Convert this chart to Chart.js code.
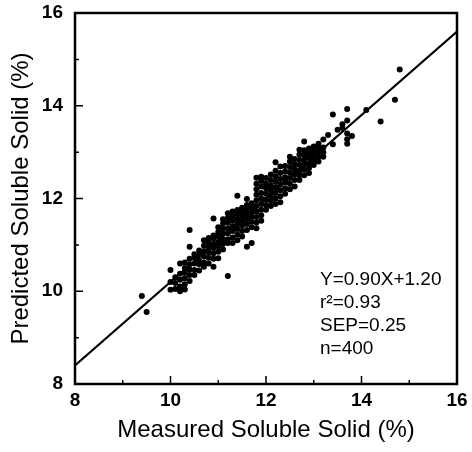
<!DOCTYPE html>
<html>
<head>
<meta charset="utf-8">
<script src="https://cdn.jsdelivr.net/npm/chart.js@4.4.0/dist/chart.umd.min.js"></script>
<style>
  html, body { margin: 0; padding: 0; background: #fff; }
  #wrap { width: 472px; height: 452px; }
</style>
</head>
<body>
<div id="wrap"><canvas id="chart" width="472" height="452"></canvas></div>
<script>
/* Measured vs predicted soluble solid – scatter with fit line */

// measured value (x) of each column of points, and the predicted values (y) read at that column
const measuredLevels = [
  9.4, 9.5, 10.0, 10.1, 10.2, 10.3, 10.4, 10.5, 10.6, 10.7, 10.8, 10.9,
  11.0, 11.1, 11.2, 11.3, 11.4, 11.5, 11.6, 11.7, 11.8, 11.9,
  12.0, 12.1, 12.2, 12.3, 12.4, 12.5, 12.6, 12.7, 12.8, 12.9,
  13.0, 13.1, 13.2, 13.3, 13.4, 13.5, 13.6, 13.7, 13.8, 14.1, 14.4, 14.7, 14.8
];
const predictedByLevel = [
  [9.90],
  [9.55],
  [10.03, 10.20, 10.46],
  [10.05, 10.18, 10.30],
  [10.00, 10.10, 10.25, 10.38, 10.60],
  [10.04, 10.15, 10.28, 10.40, 10.50, 10.62],
  [10.22, 10.35, 10.47, 10.58, 10.70, 10.96, 11.32],
  [10.35, 10.46, 10.60, 10.72, 10.80],
  [10.45, 10.58, 10.66, 10.78, 10.88],
  [10.53, 10.62, 10.75, 10.86, 10.98, 11.10],
  [10.60, 10.72, 10.84, 10.95, 11.05, 11.15],
  [10.53, 10.70, 10.82, 10.93, 11.02, 11.14, 11.20, 11.57],
  [10.71, 10.85, 10.97, 11.06, 11.18, 11.28, 11.38],
  [10.90, 11.02, 11.12, 11.24, 11.35, 11.46, 11.55],
  [10.33, 11.04, 11.12, 11.25, 11.36, 11.48, 11.58, 11.68],
  [11.04, 11.16, 11.30, 11.40, 11.52, 11.62, 11.72],
  [11.10, 11.22, 11.34, 11.45, 11.56, 11.66, 11.75, 12.06],
  [11.18, 11.30, 11.42, 11.52, 11.62, 11.72, 11.80],
  [10.96, 11.32, 11.45, 11.56, 11.66, 11.76, 11.86, 11.99],
  [11.04, 11.38, 11.50, 11.60, 11.70, 11.80, 11.90],
  [11.36, 11.48, 11.60, 11.72, 11.84, 11.96, 12.08, 12.20, 12.32, 12.45],
  [11.52, 11.64, 11.76, 11.88, 12.00, 12.12, 12.26, 12.38, 12.47],
  [11.76, 11.86, 11.98, 12.10, 12.22, 12.32, 12.44],
  [11.84, 11.95, 12.06, 12.18, 12.28, 12.40, 12.52],
  [11.88, 12.00, 12.12, 12.24, 12.36, 12.48, 12.60, 12.78],
  [11.92, 12.05, 12.18, 12.30, 12.42, 12.55, 12.69],
  [12.10, 12.22, 12.35, 12.46, 12.58, 12.70],
  [12.20, 12.32, 12.44, 12.56, 12.68, 12.80, 12.90],
  [12.26, 12.40, 12.52, 12.63, 12.74, 12.85],
  [12.40, 12.50, 12.60, 12.72, 12.83, 12.95, 13.05],
  [12.50, 12.62, 12.74, 12.84, 12.94, 13.04, 13.23],
  [12.55, 12.66, 12.76, 12.88, 12.98, 13.08],
  [12.72, 12.82, 12.92, 13.02, 13.12],
  [12.80, 12.90, 13.00, 13.10, 13.18],
  [12.90, 13.00, 13.10, 13.27],
  [13.37],
  [13.17, 13.81],
  [13.48],
  [13.52, 13.60],
  [13.18, 13.28, 13.40, 13.68, 13.93],
  [13.35],
  [13.91],
  [13.66],
  [14.13],
  [14.78]
];

// calibration line Y = 0.90X + 1.20
const fitSlope = 0.90;
const fitIntercept = 1.20;
const fitRange = [8, 16];

const majorTicks = [8, 10, 12, 14, 16];
const minorTicks = [9, 11, 13, 15];
const statsText = ['Y=0.90X+1.20', 'r\u00B2=0.93', 'SEP=0.25', 'n=400'];

const points = [];
measuredLevels.forEach((m, i) => {
  predictedByLevel[i].forEach((p) => points.push({ x: m, y: p }));
});
const fitLine = fitRange.map((v) => ({ x: v, y: fitSlope * v + fitIntercept }));

const FONT = '"Liberation Sans", Arial, Helvetica, sans-serif';

// frame, inward tick marks and the statistics text
const framePlugin = {
  id: 'frame',
  afterDatasetsDraw(chart) {
    const { ctx, chartArea: a, scales: { x, y } } = chart;
    ctx.save();
    ctx.strokeStyle = '#000';
    ctx.lineWidth = 2.5;
    ctx.strokeRect(a.left, a.top, a.right - a.left, a.bottom - a.top);

    ctx.lineWidth = 1.5;
    ctx.beginPath();
    majorTicks.concat(minorTicks).forEach((v) => {
      const len = majorTicks.includes(v) ? 8 : 4;
      const px = x.getPixelForValue(v);
      ctx.moveTo(px, a.bottom);
      ctx.lineTo(px, a.bottom - len);
      const py = y.getPixelForValue(v);
      ctx.moveTo(a.left, py);
      ctx.lineTo(a.left + len, py);
    });
    ctx.stroke();

    ctx.fillStyle = '#000';
    ctx.font = '19px ' + FONT;
    ctx.textBaseline = 'middle';
    ctx.textAlign = 'left';
    statsText.forEach((t, i) => ctx.fillText(t, a.left + 245, a.top + 267 + i * 23));
    ctx.restore();
  },
};

const tickFont = { family: FONT, size: 19, weight: 'bold' };
const titleFont = { family: FONT, size: 24 };

new Chart(document.getElementById('chart'), {
  type: 'scatter',
  data: {
    datasets: [
      {
        data: points,
        pointRadius: 3,
        pointBackgroundColor: '#000',
        pointBorderWidth: 0,
        pointHoverRadius: 3,
      },
      {
        type: 'line',
        data: fitLine,
        borderColor: '#000',
        borderWidth: 2,
        pointRadius: 0,
        fill: false,
      },
    ],
  },
  options: {
    responsive: false,
    animation: false,
    devicePixelRatio: 1,
    layout: { padding: { top: 13, right: 15, left: 0, bottom: 0 } },
    plugins: {
      legend: { display: false },
      tooltip: { enabled: false },
    },
    scales: {
      x: {
        type: 'linear',
        min: 8,
        max: 16,
        afterBuildTicks: (s) => { s.ticks = majorTicks.map((v) => ({ value: v })); },
        afterFit: (s) => {
          s.height = 68;
          s.paddingLeft = 0;
          s.paddingRight = 0;
        },
        ticks: { color: '#000', font: tickFont, padding: 5 },
        grid: { display: false, drawTicks: false },
        border: { display: false },
        title: {
          display: true,
          text: 'Measured Soluble Solid (%)',
          color: '#000',
          font: titleFont,
          padding: { top: 0, bottom: 7 },
        },
      },
      y: {
        type: 'linear',
        min: 8,
        max: 16,
        afterBuildTicks: (s) => { s.ticks = majorTicks.map((v) => ({ value: v })); },
        afterFit: (s) => {
          s.width = 75;
          s.paddingTop = 0;
          s.paddingBottom = 0;
        },
        ticks: { color: '#000', font: tickFont, padding: 12 },
        grid: { display: false, drawTicks: false },
        border: { display: false },
        title: {
          display: true,
          text: 'Predicted Soluble Solid (%)',
          color: '#000',
          font: titleFont,
          padding: { top: 7, bottom: 0 },
        },
      },
    },
  },
  plugins: [framePlugin],
});
</script>
</body>
</html>
